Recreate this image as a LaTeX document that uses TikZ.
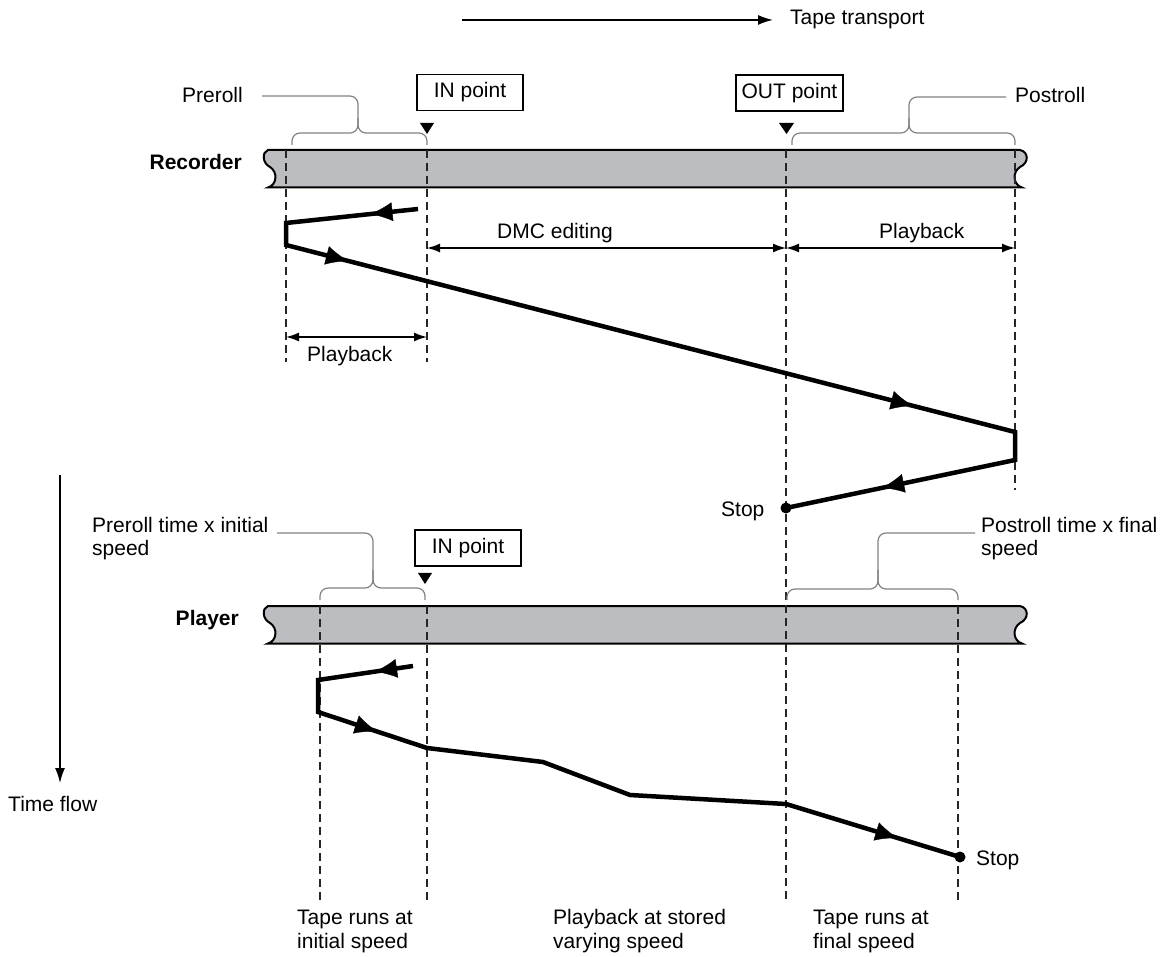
\documentclass[tikz,border=0pt]{standalone}
\usepackage{fontspec}
\setmainfont{Liberation Sans}
\usetikzlibrary{arrows.meta,decorations.markings}
\definecolor{tapegray}{RGB}{188,189,192}
\definecolor{bracegray}{RGB}{130,130,130}

\begin{document}
\begin{tikzpicture}[x=1pt,y=-1pt,
  every node/.style={font=\fontsize{21}{24}\selectfont},
  lbl/.style={inner sep=0pt},
  tape/.style={draw=black,line width=2pt,fill=tapegray},
  guide/.style={draw=black!85,line width=1.5pt,dash pattern=on 8pt off 5pt},
  run/.style={line width=4.5pt,line join=miter},
  dim/.style={line width=1.5pt,{Latex[length=13pt,width=9pt]}-{Latex[length=13pt,width=9pt]}},
  flow/.style={line width=1.5pt,-{Latex[length=15pt,width=10pt]}},
  brace/.style={draw=bracegray,line width=1.2pt,rounded corners=8pt},
  ptbox/.style={draw,line width=1.2pt,minimum height=36pt,inner sep=0pt},
  midarrow/.style={postaction={decorate},decoration={markings,
    mark=at position #1 with {\arrow{Latex[length=22pt,width=19pt]}}}}]

  \useasboundingbox (0,0) rectangle (1171,957);

  % tape strips
  \foreach \ty in {150,606} {
    \draw[tape,shift={(0,\ty)}] (268,0) -- (1020,0)
      .. controls (1029,2) and (1029,13) .. (1020,17)
      .. controls (1012,22) and (1013,35) .. (1022,37.5) -- (268,37.5)
      .. controls (277,35) and (278,22) .. (270,17)
      .. controls (262,13) and (262,2) .. (268,0) -- cycle;
  }
  \node[lbl,anchor=base east] (recname) at (242,170) {\bfseries Recorder};
  \node[lbl,anchor=base east] (plyname) at (239,625) {\bfseries Player};

  % dashed guides
  \draw[guide] (286,150) -- (286,362);
  \draw[guide] (427,150) -- (427,362);
  \draw[guide] (786,150) -- (786,903);
  \draw[guide] (1015,150) -- (1015,490);
  \draw[guide] (320,606) -- (320,903);
  \draw[guide] (427,606) -- (427,903);
  \draw[guide] (958,606) -- (958,903);

  % tape transport and time flow
  \node[lbl,anchor=base west] (tptxt) at (790,25) {Tape transport};
  \draw[flow] ([xshift=-328pt]tptxt.west) -- ([xshift=-17pt]tptxt.west);
  \node[lbl,anchor=base west] (tflow) at (8,811) {Time flow};
  \coordinate (tftop) at (60,475);
  \coordinate (tfend) at (60,783);
  \draw[flow] (tftop) -- (tfend);

  % edit points
  \node[ptbox,minimum width=106pt] (inrec) at (470,92.5) {IN point};
  \node[ptbox,minimum width=107pt] (outrec) at (789.5,93) {OUT point};
  \node[ptbox,minimum width=106pt] (inply) at (468,548) {IN point};
  \fill (420,123) -- (434,123) -- (427,134) -- cycle;
  \fill (779,123) -- (794,123) -- (786.5,134) -- cycle;
  \fill (418,573) -- (432,573) -- (425,584) -- cycle;

  % braces
  \node[lbl,anchor=base east] (prerec) at (243,103) {Preroll};
  \draw[brace] (292,145) -- (292,133) -- (358,133) -- (358,96) -- (262,96);
  \draw[brace] (427,145) -- (427,133) -- (358,133) -- (358,118);
  \node[lbl,anchor=base west] (postrec) at (1015,103) {Postroll};
  \draw[brace] (792,145) -- (792,133) -- (909,133) -- (909,97) -- (1006,97);
  \draw[brace] (1015,145) -- (1015,133) -- (909,133) -- (909,118);
  \node[lbl,anchor=base west,align=left] (preply) at (92,556) {Preroll time x initial\\speed};
  \draw[brace] (320,600) -- (320,588) -- (373,588) -- (373,533) -- (277,533);
  \draw[brace] (425,600) -- (425,588) -- (373,588) -- (373,570);
  \node[lbl,anchor=base west,align=left] (postply) at (981,556) {Postroll time x final\\speed};
  \draw[brace] (787,600) -- (787,589) -- (878,589) -- (878,533) -- (975,533);
  \draw[brace] (958,600) -- (958,589) -- (878,589) -- (878,570);

  % intervals
  \draw[dim] (286,337) -- (427,337);
  \node[lbl,anchor=base west] (pbleft) at (307,362) {Playback};
  \draw[dim] (427,248) -- (786,248);
  \node[lbl,anchor=base west] (dmctxt) at (497,239) {DMC editing};
  \draw[dim] (786,248) -- (1015,248);
  \node[lbl,anchor=base west] (pbright) at (879,239) {Playback};

  % recorder run
  \coordinate (r0) at (418,209);
  \coordinate (r1) at (286,223);
  \coordinate (r2) at (286,245);
  \coordinate (r3) at (1015,432);
  \coordinate (r4) at (1015,460);
  \coordinate (rstop) at (786,508);
  \draw[run] (r0) -- (r1) -- (r2) -- (r3) -- (r4) -- (rstop);
  \fill (rstop) circle (5.5pt);
  \path[midarrow=0.36] (r0) -- (r1);
  \path[midarrow=0.085] (r2) -- (r3);
  \path[midarrow=0.86] (r2) -- (r3);
  \path[midarrow=0.58] (r4) -- (rstop);
  \node[lbl,anchor=base west] (stoprec) at (721,517) {Stop};

  % player run
  \coordinate (p0) at (413,666);
  \coordinate (p1) at (318,680);
  \coordinate (p2) at (318,712);
  \coordinate (p3) at (427,748);
  \coordinate (p4) at (543,762);
  \coordinate (p5) at (630,795);
  \coordinate (p6) at (786,804);
  \coordinate (pstop) at (960,857);
  \draw[run] (p0) -- (p1) -- (p2) -- (p3) -- (p4) -- (p5) -- (p6) -- (pstop);
  \fill (pstop) circle (5.5pt);
  \path[midarrow=0.4] (p0) -- (p1);
  \path[midarrow=0.54] (p2) -- (p3);
  \path[midarrow=0.64] (p6) -- (pstop);
  \node[lbl,anchor=base west] (stopply) at (976,865) {Stop};

  % speed notes
  \node[lbl,anchor=base west,align=left] (initspd) at (297,948) {Tape runs at\\initial speed};
  \node[lbl,anchor=base west,align=left] (varyspd) at (553,948) {Playback at stored\\varying speed};
  \node[lbl,anchor=base west,align=left] (finalspd) at (813,948) {Tape runs at\\final speed};
\end{tikzpicture}
\end{document}
